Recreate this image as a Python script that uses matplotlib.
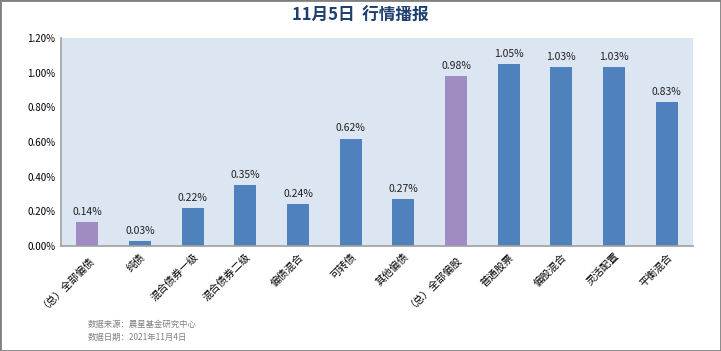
import matplotlib.pyplot as plt
from matplotlib.patches import Rectangle

plt.rcParams['font.family'] = ['Noto Sans CJK SC', 'DejaVu Sans']

categories = ["（总）全部偏债", "纯债", "混合债券一级", "混合债券二级", "偏债混合", "可转债",
              "其他偏债", "（总）全部偏股", "普通股票", "偏股混合", "灵活配置", "平衡混合"]
values = [0.14, 0.03, 0.22, 0.35, 0.24, 0.62, 0.27, 0.98, 1.05, 1.03, 1.03, 0.83]
highlight = ["（总）全部偏债", "（总）全部偏股"]

blue = "#4F81BD"
purple = "#A08CC2"
colors = [purple if c in highlight else blue for c in categories]

fig = plt.figure(figsize=(7.21, 3.51), dpi=100)
ax = fig.add_axes([61 / 721, 1 - 246 / 351, (693 - 61) / 721, (246 - 38) / 351])
ax.set_facecolor("#DCE6F2")

x = range(len(categories))
bars = ax.bar(x, values, width=0.42, color=colors)
for xi, v in zip(x, values):
    ax.text(xi, v + 0.03, f"{v:.2f}%", ha="center", va="bottom", fontsize=7.5, color="#222222")

ax.set_xlim(-0.5, len(categories) - 0.5)
ax.set_ylim(0, 1.2)
ax.set_yticks([0, 0.2, 0.4, 0.6, 0.8, 1.0, 1.2])
ax.set_yticklabels([f"{t:.2f}%" for t in [0, 0.2, 0.4, 0.6, 0.8, 1.0, 1.2]], fontsize=7)
ax.set_xticks(list(x))
ax.set_xticklabels(categories, rotation=45, ha="right", rotation_mode="anchor", fontsize=7.5)
ax.tick_params(length=0, pad=4)
for s in ["top", "right"]:
    ax.spines[s].set_visible(False)
for s in ["left", "bottom"]:
    ax.spines[s].set_color("#A0A0A0")
    ax.spines[s].set_linewidth(1.2)

fig.text(0.5, 1 - 16 / 351, "11月5日  行情播报", ha="center", va="center",
         fontsize=12, fontweight="bold", color="#1F3F6F")
fig.text(88 / 721, 1 - 324 / 351, "数据来源：晨星基金研究中心", fontsize=6, color="#808080", va="center")
fig.text(88 / 721, 1 - 337 / 351, "数据日期：2021年11月4日", fontsize=6, color="#808080", va="center")

fig.patches.append(Rectangle((0, 0), 1, 1, transform=fig.transFigure, fill=False,
                             edgecolor="#808080", linewidth=2))

fig.savefig("out.png", dpi=100)
